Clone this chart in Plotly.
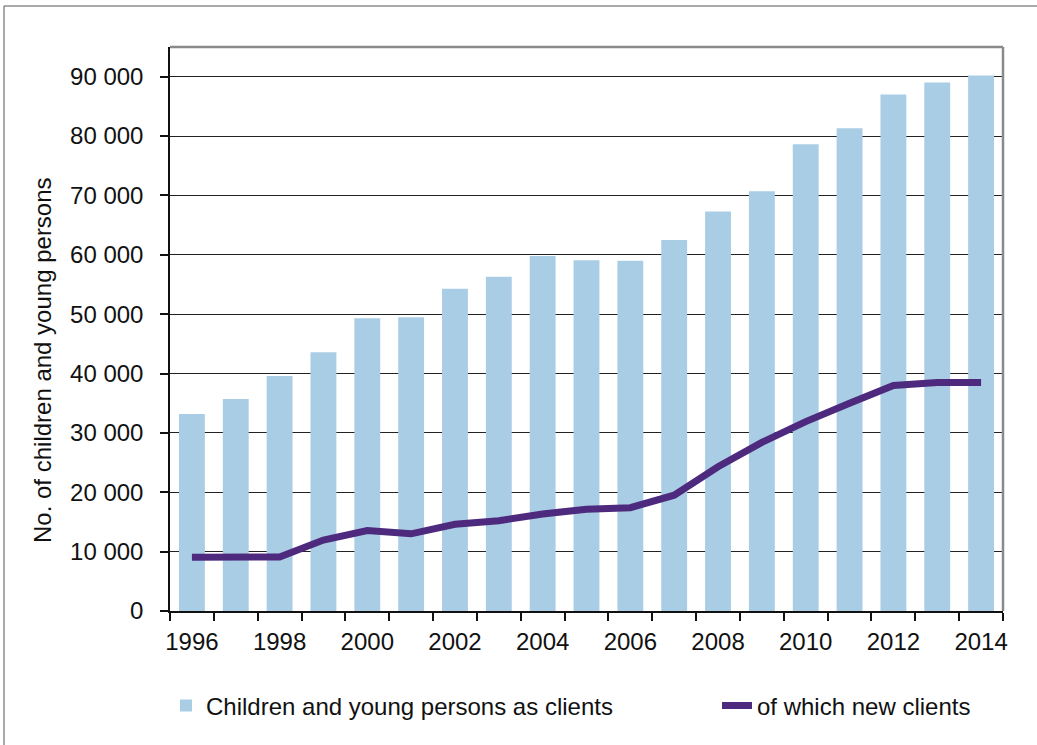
import plotly.graph_objects as go

years = list(range(1996, 2015))
clients = [33200, 35700, 39600, 43600, 49300, 49500, 54300, 56300, 59800, 59100,
           59000, 62500, 67300, 70700, 78600, 81300, 87000, 89000, 90200]
new_clients = [9050, 9100, 9100, 11950, 13550, 13000, 14600, 15200, 16350, 17150,
               17400, 19500, 24300, 28400, 31900, 35000, 38000, 38500, 38500]
tick_years = list(range(1996, 2015, 2))
y_ticks = list(range(0, 90001, 10000))

FONT = "Liberation Sans, Arial, sans-serif"
FS = 24
L, R, T, B = 170, 34, 47, 134
W, H = 1037, 745
pw, ph = W - L - R, H - T - B

def px_x(x):
    return (x - L) / pw

def px_y(y):
    return (T + ph - y) / ph

fig = go.Figure()
fig.add_trace(go.Bar(x=years, y=clients, name="Children and young persons as clients",
                     marker=dict(color="#a9cde4", line=dict(width=0)), width=0.59,
                     legend="legend"))
fig.add_trace(go.Scatter(x=years, y=new_clients, name="of which new clients", mode="lines",
                         line=dict(color="#4e2a7e", width=7), legend="legend2"))

leg_common = dict(orientation="h", yanchor="middle", xanchor="left",
                  font=dict(size=FS, family=FONT, color="#111"),
                  bgcolor="rgba(0,0,0,0)")

fig.update_layout(
    width=W, height=H,
    margin=dict(l=L, r=R, t=T, b=B, autoexpand=False),
    paper_bgcolor="white", plot_bgcolor="white",
    font=dict(family=FONT, size=FS, color="#111"),
    separators=". ",
    showlegend=True,
    legend=dict(x=px_x(166), y=px_y(706), **leg_common),
    legend2=dict(x=px_x(717), y=px_y(706), **leg_common),
    xaxis=dict(range=[1995.5, 2014.5], tickvals=tick_years, ticks="", showgrid=False,
               showline=True, linecolor="#111", linewidth=1.5, zeroline=False,
               ticklabelstandoff=8,
               minor=dict(tick0=1995.5, dtick=1, ticks="outside", ticklen=8,
                          tickcolor="#111", tickwidth=1.5, showgrid=False),
               tickfont=dict(size=FS, family=FONT)),
    yaxis=dict(range=[0, 95000], tickvals=y_ticks, tickformat=",d", ticks="outside",
               ticklen=8, tickcolor="#111", tickwidth=1.5, showgrid=True,
               gridcolor="#222", gridwidth=1, showline=True, linecolor="#111",
               linewidth=1.5, zeroline=False, ticklabelstandoff=12,
               tickfont=dict(size=FS, family=FONT)),
    shapes=[
        dict(type="line", xref="paper", yref="paper", x0=0, x1=1, y0=1, y1=1,
             line=dict(color="#8a8a8a", width=2.5)),
        dict(type="line", xref="paper", yref="paper", x0=1, x1=1, y0=0, y1=1,
             line=dict(color="#8a8a8a", width=2.5)),
        dict(type="rect", xref="paper", yref="paper",
             x0=px_x(4), x1=px_x(W + 5), y0=px_y(H + 5), y1=px_y(6),
             line=dict(color="#555", width=1), layer="below"),
    ],
    annotations=[
        dict(text="No. of children and young persons", textangle=-90,
             xref="paper", yref="paper", x=px_x(42), y=px_y(360),
             xanchor="center", yanchor="middle", showarrow=False,
             font=dict(size=FS, family=FONT, color="#111")),
    ],
)

fig.write_html("out.html", config={"displayModeBar": False},
               post_script="document.body.style.margin='0px';")
